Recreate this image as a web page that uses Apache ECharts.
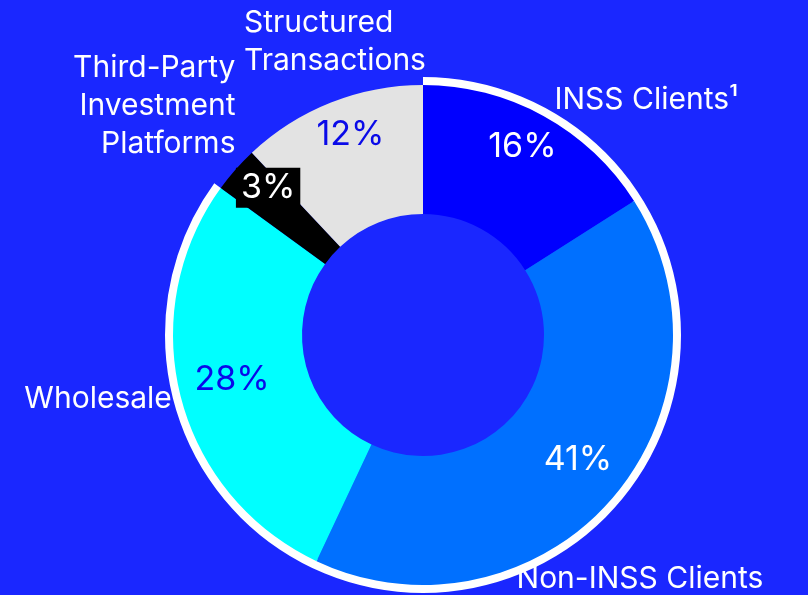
<!DOCTYPE html>
<html>
<head>
<meta charset="utf-8">
<script src="https://cdn.jsdelivr.net/npm/echarts@6/dist/echarts.min.js"></script>
<style>
  html, body { margin: 0; padding: 0; background: #1a27ff; }
  #chart { width: 808px; height: 595px; }
</style>
</head>
<body>
<div id="chart"></div>
<script>
// segment data, clockwise from 12 o'clock
var categories = ["INSS Clients¹", "Non-INSS Clients", "Wholesale", "Third-Party\nInvestment\nPlatforms", "Structured\nTransactions"];
var shares = [16, 41, 28, 3, 12];
var colors = ["#0000ff", "#0070ff", "#00ffff", "#000000", "#e3e3e3"];
var pctColors = ["#ffffff", "#ffffff", "#0a0ae8", "#ffffff", "#0a0ae8"];
// the white outer ring only runs round the first three segments
var ringCount = 3;

// label nudges
var nameShift = [
  { dx: 6, dy: -16 },
  { dx: -99, dy: 79 },
  { dx: -4, dy: 2 },
  { dx: 5, dy: -64 },
  { dx: -82, dy: -61, align: "left" }
];
var pctShift = [
  { dx: -2, dy: -4 },
  { dx: -3, dy: -14 },
  { dx: 13, dy: -8 },
  { dx: 3, dy: -8 },
  { dx: 5, dy: -5 }
];

var ringOn = 0, ringOff = 0;
shares.forEach(function (v, i) {
  if (i < ringCount) ringOn += v; else ringOff += v;
});

var font = "Inter, 'Noto Sans', sans-serif";
var chart = echarts.init(document.getElementById("chart"));

chart.setOption({
  backgroundColor: "#1a27ff",
  animation: false,
  series: [
    {
      // white rim
      type: "pie",
      center: [423, 335],
      radius: [248, 258],
      startAngle: 90,
      silent: true,
      label: { show: false },
      labelLine: { show: false },
      data: [
        { value: ringOn, itemStyle: { color: "#ffffff" } },
        { value: ringOff, itemStyle: { color: "rgba(0,0,0,0)" } }
      ]
    },
    {
      type: "pie",
      center: [423, 335],
      radius: [121, 250],
      startAngle: 90,
      silent: true,
      avoidLabelOverlap: false,
      label: {
        show: true,
        position: "outside",
        formatter: "{b}",
        color: "#ffffff",
        fontFamily: font,
        fontSize: 30,
        lineHeight: 38
      },
      labelLine: { show: false, length: 0, length2: 0 },
      labelLayout: function (p) {
        var s = nameShift[p.dataIndex];
        var out = { dx: s.dx, dy: s.dy };
        if (s.align) out.align = s.align;
        return out;
      },
      data: categories.map(function (c, i) {
        return { name: c, value: shares[i], itemStyle: { color: colors[i] } };
      })
    },
    {
      // percentage labels
      type: "pie",
      center: [423, 335],
      radius: [155, 260],
      startAngle: 90,
      silent: true,
      itemStyle: { color: "rgba(0,0,0,0)" },
      label: {
        show: true,
        position: "inside",
        fontFamily: font,
        fontSize: 34
      },
      labelLine: { show: false },
      labelLayout: function (p) {
        return { dx: pctShift[p.dataIndex].dx, dy: pctShift[p.dataIndex].dy };
      },
      data: shares.map(function (v, i) {
        var lbl = { formatter: v + "%", color: pctColors[i] };
        if (i === 3) {
          lbl.backgroundColor = "#000000";
          lbl.padding = [3, 5];
        }
        return { name: categories[i], value: v, label: lbl };
      })
    }
  ]
});
</script>
</body>
</html>
